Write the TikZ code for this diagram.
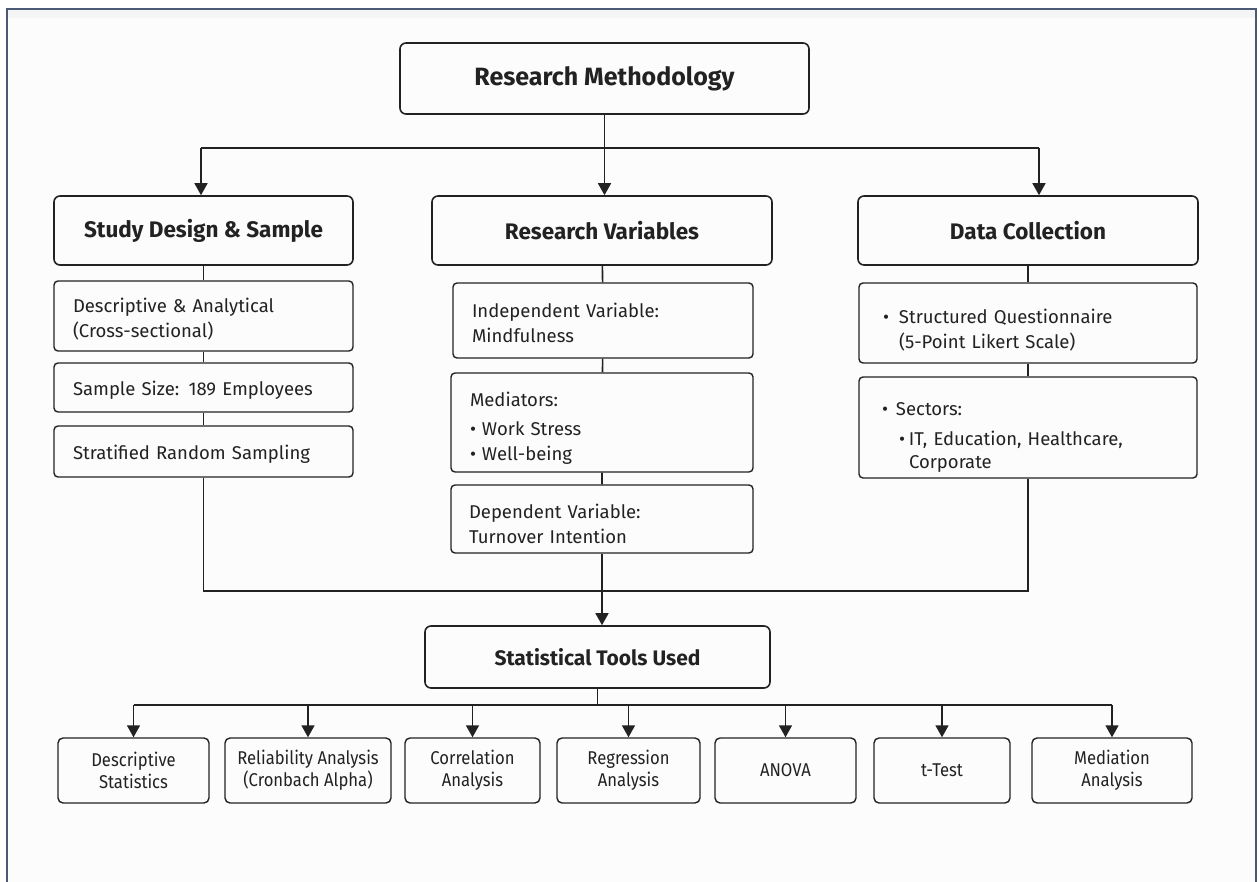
\documentclass[tikz,border=0pt]{standalone}
\usepackage{fontspec}
\setmainfont{Fira Sans}
\newfontfamily\condfont[FakeStretch=0.9]{Fira Sans}
\usetikzlibrary{arrows.meta}

\definecolor{framec}{HTML}{4A5A76}
\definecolor{inkc}{HTML}{222222}
\definecolor{bgc}{HTML}{FCFCFC}

\newcommand\titlefont{\fontsize{25}{29}\selectfont\bfseries}
\newcommand\headfont{\fontsize{22.5}{26}\selectfont\bfseries}
\newcommand\itemfont{\fontsize{18.5}{25}\selectfont}
\newcommand\toolfont{\condfont\fontsize{18.5}{22}\selectfont}

\tikzset{
  head/.style={draw=inkc, text=inkc, rounded corners=6pt, line width=1.6pt,
    font=\headfont, inner sep=0pt},
  itembox/.style={draw=inkc, text=inkc, rounded corners=4pt, line width=1.4pt,
    font=\itemfont, align=left, inner xsep=19pt, inner ysep=0pt},
  pad/.style={execute at begin node={\rule{0pt}{#1}}},
  tool/.style={draw=inkc, text=inkc, rounded corners=5pt, line width=1.4pt,
    font=\toolfont, align=center, inner sep=0pt, minimum height=65pt},
  link/.style={draw=inkc, line width=1.6pt},
  arr/.style={link, -{Triangle[width=13pt,length=12pt]}},
}

\begin{document}
\begin{tikzpicture}[x=1pt,y=-1pt]
    \useasboundingbox (0,0) rectangle (1259,882);
    \fill[white] (0,0) rectangle (1259,882);
    \fill[bgc] (7,9) rectangle (1256,882);
    \fill[black!4] (8,10) rectangle (1255,18);
    \draw[framec, line width=2pt] (7,882) -- (7,9) -- (1256,9) -- (1256,882);

    \node[head, font=\titlefont, minimum width=409pt, minimum height=71pt] (title) at (604.5,78.5) {Research Methodology};
    \node[head, minimum width=299pt, minimum height=69pt] (sds) at (203.5,230.5) {Study Design \& Sample};
    \node[head, minimum width=340pt, minimum height=69pt] (rv) at (602,230.5) {Research Variables};
    \node[head, minimum width=340pt, minimum height=69pt] (dc) at (1028,230.5) {Data Collection};

    \node[itembox, pad=20pt, text width=261pt, minimum height=70pt] (sds1) at (203.5,316) {Descriptive \& Analytical\\(Cross-sectional)};
    \node[itembox, pad=20pt, text width=261pt, minimum height=49pt] (sds2) at (203.5,387.5) {Sample Size: 189 Employees};
    \node[itembox, pad=20pt, text width=261pt, minimum height=51pt] (sds3) at (203.5,451.5) {Stratified Random Sampling};

    \node[itembox, pad=20pt, text width=262pt, minimum height=75pt] (rv1) at (603,320.5) {Independent Variable:\\Mindfulness};
    \node[itembox, pad=26pt, text width=264pt, minimum height=99pt] (rv2) at (602,422.5) {Mediators:\\[4pt]\makebox[12pt][l]{•}Work Stress\\\makebox[12pt][l]{•}Well-being};
    \node[itembox, pad=24pt, text width=266pt, minimum height=68pt, inner xsep=18pt] (rv3) at (602,519) {Dependent Variable:\\Turnover Intention};

    \node[itembox, pad=28pt, minimum height=80pt, inner xsep=24pt, text width=290pt] (dc1) at (1028,323) {\makebox[16pt][l]{•}Structured Questionnaire\\\hspace*{16pt}(5-Point Likert Scale)};
    \node[itembox, pad=32pt, minimum height=101pt, inner xsep=23pt, text width=292pt] (dc2) at (1028,427.5) {\makebox[14pt][l]{•}Sectors:\\[5pt]\hspace*{17pt}\makebox[10pt][l]{•}IT, Education, Healthcare,\\[-2pt]\hspace*{27pt}Corporate};

    \node[head, minimum width=345pt, minimum height=62pt, font=\fontsize{21}{25}\selectfont\bfseries] (stt) at (597.5,657) {Statistical Tools Used};

    \foreach \i/\x/\w/\t in {1/133.5/151/{Descriptive\\Statistics},
                             2/308/166/{Reliability Analysis\\(Cronbach Alpha)},
                             3/472.5/135/{Correlation\\Analysis},
                             4/628.5/143/{Regression\\Analysis},
                             5/785.5/141/{ANOVA},
                             6/942/136/{t-Test},
                             7/1112/160/{Mediation\\Analysis}}
        {\node[tool, minimum width=\w pt] (t\i) at (\x,770.5) {\t};}

    \coordinate (busL) at (201,148);
    \coordinate (busR) at (1039,148);
    \draw[link] (busL) -- (busR);
    \draw[arr] (title.south) -- (title.south |- rv.north);
    \draw[arr] (busL) -- (busL |- sds.north);
    \draw[arr] (busR) -- (busR |- dc.north);

    \draw[link] (sds) -- (sds1) (sds1) -- (sds2) (sds2) -- (sds3);
    \draw[link] (rv) -- (rv1) (rv1) -- (rv2) (rv2) -- (rv3);
    \draw[link] (dc) -- (dc1) (dc1) -- (dc2);

    \coordinate (join) at (600,591);
    \draw[link] (sds3.south) |- (join) -| (dc2.south);
    \draw[arr] (rv3.south) -- (rv3.south |- stt.north);

    \coordinate (bus2) at (597.5,705);
    \draw[link] (stt.south) -- (bus2);
    \draw[link] (t1.north |- bus2) -- (t7.north |- bus2);
    \foreach \i in {1,...,7}
        {\draw[arr] (t\i.north |- bus2) -- (t\i.north);}
\end{tikzpicture}
\end{document}
